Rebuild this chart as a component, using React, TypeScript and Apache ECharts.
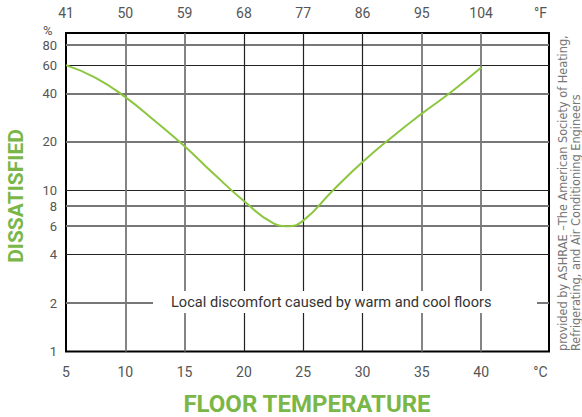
import React, { useEffect, useRef } from "react";
import * as echarts from "echarts";

const tempC = [5, 7.5, 10, 12.5, 15, 17.5, 20, 22.5, 23.6, 25, 27.5, 30, 32.5, 35, 37.5, 40];
const dissatisfied = [60, 50, 38, 27, 18.8, 12.6, 8.6, 6.25, 6, 6.5, 10, 15, 21.5, 30, 41, 58];
const yTicks = [1, 2, 4, 6, 8, 10, 20, 40, 60, 80];
const yTickDark = [true, false, true, false, false, true, false, false, true, false];
const xTicks = [10, 15, 20, 25, 30, 35, 40];
const xTickDark = [false, false, true, true, true, false, false];

const GREEN = "#8cc63f";
const TITLE_GREEN = "#7ab648";
const LABEL = "#555";
const FONT = "Roboto, 'Open Sans', sans-serif";
const NARROW = "'Liberation Sans Narrow', 'DejaVu Sans Condensed', sans-serif";

export default function App() {
  const ref = useRef<HTMLDivElement>(null);
  useEffect(() => {
    const chart = echarts.init(ref.current!, null, { renderer: "svg" });
    const curve = tempC.map((x, i) => [x, dissatisfied[i]]);
    const gridStyle = (dark: boolean, v: number) =>
      v === 1
        ? { color: "rgba(0,0,0,0)", width: 1, type: "solid" }
        : dark
        ? { color: "#222", width: 1.2, type: "solid" }
        : { color: "#777", width: 1.8, type: "solid" };
    chart.setOption({
      animation: false,
      grid: { left: 66, top: 33, width: 483, height: 318.5, show: true, borderColor: "#000", borderWidth: 2, backgroundColor: "transparent" },
      xAxis: [
        {
          type: "value", min: 5, max: 45.72, interval: 5, position: "bottom",
          axisLine: { show: false }, axisTick: { show: false }, splitLine: { show: false },
          axisLabel: { color: LABEL, fontSize: 14, fontFamily: FONT, margin: 13, formatter: (v: number) => (v === 45 ? "°C" : String(v)) },
        },
        {
          type: "value", min: 5, max: 45.72, interval: 5, position: "top",
          axisLine: { show: false }, axisTick: { show: false }, splitLine: { show: false },
          axisLabel: { color: LABEL, fontSize: 14, fontFamily: FONT, margin: 13, formatter: (v: number) => (v === 45 ? "°F" : String(Math.round((v * 9) / 5 + 32))) },
        },
      ],
      yAxis: {
        type: "log", logBase: 10, min: 1, max: 95,
        axisLine: { show: false }, axisTick: { show: false }, splitLine: { show: false }, axisLabel: { show: false },
      },
      series: [
        {
          type: "line", data: curve, z: 1, silent: true, symbol: "none",
          lineStyle: { opacity: 0 },
          markLine: {
            silent: true, symbol: ["none", "none"], animation: false,
            data: [
              ...yTicks.map((v, i) => ({
                yAxis: v === 1 ? 1.0001 : v,
                lineStyle: gridStyle(yTickDark[i], v),
                label: { show: true, position: "start", formatter: String(v), color: LABEL, fontSize: 13, fontFamily: FONT, distance: 9, opacity: 1 },
              })),
              ...xTicks.map((v, i) => ({ xAxis: v, lineStyle: gridStyle(xTickDark[i], v), label: { show: false } })),
            ],
          },
        },
        {
          type: "line", data: curve, z: 5, smooth: 0.5, symbol: "none", silent: true,
          lineStyle: { color: GREEN, width: 2 },
        },
      ],
      graphic: [
        { type: "text", left: 43, top: 24, z: 100, style: { text: "%", fill: LABEL, fontSize: 13, fontFamily: FONT } },
        { type: "rect", z: 100, shape: { x: 153, y: 291, width: 384, height: 22 }, style: { fill: "#fff" } },
        {
          type: "text", z: 101, x: 171, y: 302,
          style: { text: "Local discomfort caused by warm and cool floors", fill: "#333", fontSize: 14.6, fontFamily: FONT, align: "left", verticalAlign: "middle" },
        },
        {
          type: "text", z: 101, x: 307, y: 404,
          style: { text: "FLOOR TEMPERATURE", fill: TITLE_GREEN, fontSize: 24, fontWeight: "bold", fontFamily: FONT, align: "center", verticalAlign: "middle" },
        },
        {
          type: "text", z: 101, x: 16, y: 196, rotation: Math.PI / 2,
          style: { text: "DISSATISFIED", fill: TITLE_GREEN, fontSize: 21, fontWeight: "bold", fontFamily: FONT, align: "center", verticalAlign: "middle" },
        },
        {
          type: "text", z: 101, x: 562, y: 351, rotation: Math.PI / 2,
          style: { text: "provided by ASHRAE –The American Society of Heating,", fill: "#777", fontSize: 12.6, fontFamily: NARROW, align: "left", verticalAlign: "middle" },
        },
        {
          type: "text", z: 101, x: 575, y: 351, rotation: Math.PI / 2,
          style: { text: "Refrigerating, and Air Conditioning Engineers", fill: "#777", fontSize: 12.6, fontFamily: NARROW, align: "left", verticalAlign: "middle" },
        },
      ],
    });
    return () => chart.dispose();
  }, []);
  return <div ref={ref} style={{ position: "fixed", left: 0, top: 0, width: 582, height: 417, background: "#fff" }} />;
}
